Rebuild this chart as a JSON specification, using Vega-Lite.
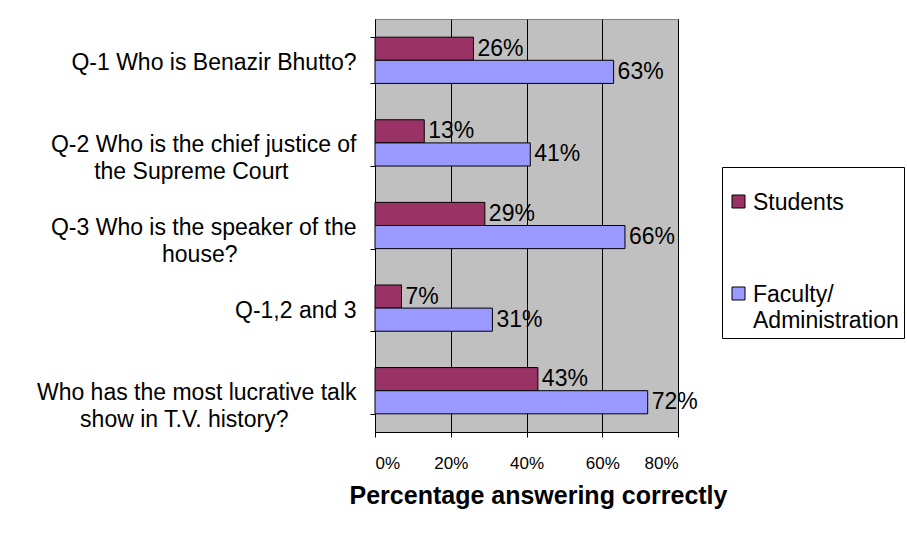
{
  "$schema": "https://vega.github.io/schema/vega-lite/v6.json",
  "width": 303,
  "height": 413,
  "autosize": {"type": "none"},
  "padding": {"left": 375, "top": 19, "right": 229, "bottom": 103},
  "background": "white",
  "config": {
    "font": "Liberation Sans",
    "view": {"fill": "#C0C0C0", "stroke": "#808080", "strokeWidth": 1},
    "legend": {
      "orient": "none",
      "legendX": 347,
      "legendY": 148
    }
  },
  "data": {
    "values": [
      {"question": "Q-1 Who is Benazir Bhutto?", "group": "Students", "value": 0.26},
      {"question": "Q-1 Who is Benazir Bhutto?", "group": "Faculty/ Administration", "value": 0.63},
      {"question": "Q-2 Who is the chief justice of the Supreme Court", "group": "Students", "value": 0.13},
      {"question": "Q-2 Who is the chief justice of the Supreme Court", "group": "Faculty/ Administration", "value": 0.41},
      {"question": "Q-3 Who is the speaker of the house?", "group": "Students", "value": 0.29},
      {"question": "Q-3 Who is the speaker of the house?", "group": "Faculty/ Administration", "value": 0.66},
      {"question": "Q-1,2 and 3", "group": "Students", "value": 0.07},
      {"question": "Q-1,2 and 3", "group": "Faculty/ Administration", "value": 0.31},
      {"question": "Who has the most lucrative talk show in T.V. history?", "group": "Students", "value": 0.43},
      {"question": "Who has the most lucrative talk show in T.V. history?", "group": "Faculty/ Administration", "value": 0.72}
    ]
  },
  "encoding": {
    "y": {
      "field": "question",
      "type": "nominal",
      "sort": [
        "Q-1 Who is Benazir Bhutto?",
        "Q-2 Who is the chief justice of the Supreme Court",
        "Q-3 Who is the speaker of the house?",
        "Q-1,2 and 3",
        "Who has the most lucrative talk show in T.V. history?"
      ],
      "scale": {"paddingInner": 0.44, "paddingOuter": 0.22},
      "axis": {
        "title": null,
        "domainColor": "black",
        "domainWidth": 1,
        "tickBand": "extent",
        "tickColor": "black",
        "tickSize": 5,
        "labelFontSize": 23,
        "labelColor": "black",
        "labelLimit": 400,
        "labelLineHeight": 26.5,
        "labelPadding": 14,
        "labelOffset": 2,
        "labelExpr": "datum.value == 'Q-2 Who is the chief justice of the Supreme Court' ? ['Q-2 Who is the chief justice of', 'the Supreme Court\\u2800\\u2800\\u2800\\u2800'] : datum.value == 'Q-3 Who is the speaker of the house?' ? ['Q-3 Who is the speaker of the', 'house?\\u2800\\u2800\\u2800\\u2800\\u2800\\u2800\\u2800'] : datum.value == 'Who has the most lucrative talk show in T.V. history?' ? ['Who has the most lucrative talk', 'show in T.V. history?\\u2800\\u2800\\u2800\\u2800'] : datum.label"
      }
    },
    "yOffset": {"field": "group", "type": "nominal", "sort": ["Students", "Faculty/ Administration"]},
    "x": {
      "field": "value",
      "type": "quantitative",
      "scale": {"domain": [0, 0.8], "nice": false},
      "axis": {
        "values": [0, 0.2, 0.4, 0.6, 0.8],
        "format": ".0%",
        "grid": true,
        "gridColor": "black",
        "gridWidth": 1,
        "gridOpacity": 1,
        "domainColor": "black",
        "tickColor": "black",
        "tickSize": 5,
        "labelFontSize": 17,
        "labelColor": "black",
        "labelPadding": 18,
        "title": "Percentage answering correctly",
        "titleFontSize": 25,
        "titleFontWeight": "bold",
        "titleColor": "black",
        "titleAlign": "center",
        "titleBaseline": "alphabetic",
        "titleX": 163,
        "titleY": 71
      }
    }
  },
  "layer": [
    {
      "mark": {"type": "bar", "stroke": "black", "strokeWidth": 1},
      "encoding": {
        "color": {
          "field": "group",
          "type": "nominal",
          "scale": {"domain": ["Students", "Faculty/ Administration"], "range": ["#993366", "#9999FF"]},
          "legend": {
            "title": "\u00a0",
            "titleFontSize": 14,
            "titlePadding": 4,
            "padding": 5,
            "strokeColor": "black",
            "fillColor": "white",
            "symbolType": "square",
            "symbolSize": 169,
            "symbolStrokeColor": "black",
            "symbolStrokeWidth": 1,
            "symbolOpacity": 1,
            "labelFontSize": 23,
            "labelColor": "black",
            "labelLimit": 300,
            "labelOffset": 3,
            "rowPadding": 67,
            "labelBaseline": "alphabetic",
            "labelExpr": "datum.label == 'Faculty/ Administration' ? ['Faculty/', 'Administration'] : datum.label",
            "encode": {"labels": {"update": {"dy": {"value": 8}, "lineHeight": {"value": 26.5}}}}
          }
        }
      }
    },
    {
      "mark": {"type": "text", "align": "left", "baseline": "middle", "dx": 4, "fontSize": 23, "color": "black"},
      "encoding": {
        "text": {"field": "value", "type": "quantitative", "format": ".0%"}
      }
    }
  ]
}
